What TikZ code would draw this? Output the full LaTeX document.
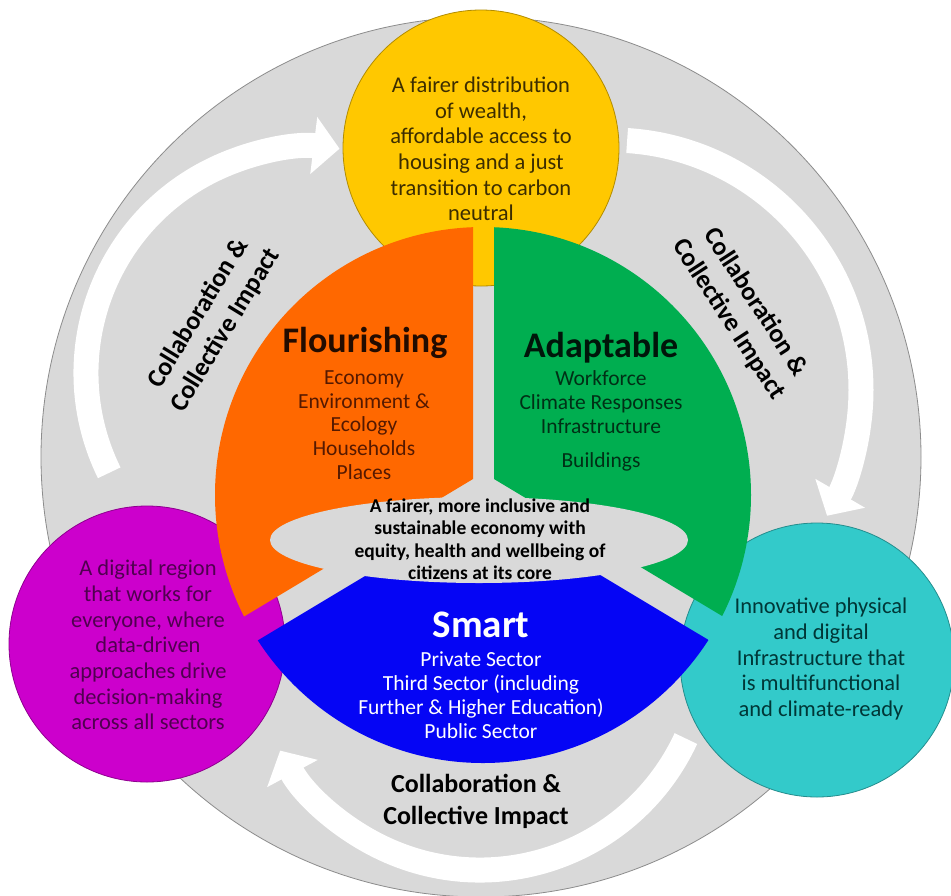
\documentclass[tikz,border=0pt]{standalone}
\usepackage{fontspec}
\setmainfont{Carlito}
\usetikzlibrary{arrows.meta}
\definecolor{ringgrey}{RGB}{217,217,217}
\definecolor{ringedge}{RGB}{140,140,140}
\definecolor{cyel}{RGB}{255,200,0}
\definecolor{corange}{RGB}{255,104,0}
\definecolor{cgreen}{RGB}{0,174,80}
\definecolor{cblue}{RGB}{5,5,245}
\definecolor{cmag}{RGB}{204,0,204}
\definecolor{ccyan}{RGB}{51,202,202}
\definecolor{tyel}{RGB}{60,45,0}
\definecolor{torange}{RGB}{85,25,0}
\definecolor{torangeT}{RGB}{35,12,0}
\definecolor{tgreen}{RGB}{0,48,22}
\definecolor{tgreenT}{RGB}{0,22,10}
\definecolor{tmag}{RGB}{80,0,80}
\definecolor{tcyan}{RGB}{0,55,55}
\tikzset{
  flowarrow/.style={draw=white, line width=25pt, -{Triangle[width=56pt,length=26pt]}},
  collab/.style={font=\fontsize{26}{32}\selectfont\bfseries, align=center, text=black, inner sep=0pt},
  bubble/.style={circle, inner sep=0pt, line width=0.8pt},
  bubtext/.style={align=center, font=\fontsize{22.5}{25.7}\selectfont, inner sep=0pt},
  subtext/.style={align=center, font=\fontsize{21.5}{23.8}\selectfont, inner sep=0pt},
  sectitle/.style={font=\fontsize{36}{40}\selectfont\bfseries, inner sep=0pt},
  coretext/.style={align=center, font=\fontsize{19.5}{22.5}\selectfont\bfseries, text=black, inner sep=0pt}
}
\begin{document}
\begin{tikzpicture}[x=1pt,y=-1pt]
\useasboundingbox (0,0) rectangle (951,895);
\fill[white] (0,0) rectangle (951,895);

% outer ring
\node[bubble, fill=ringgrey, draw=ringedge, minimum size=880pt] (ring) at (481,457) {};

% circular white arrows
\coordinate (lc) at (312,373);
\coordinate (rc) at (611,390);
\coordinate (bc) at (480,643);
\draw[flowarrow] ([shift={(153.8:226)}]lc) arc[start angle=153.8, end angle=277, radius=226];
\draw[flowarrow] ([shift={(273.7:250)}]rc) arc[start angle=273.7, end angle=390.2, radius=250];
\draw[flowarrow] ([shift={(24.9:227)}]bc) arc[start angle=24.9, end angle=151.7, radius=227];

% collaboration labels
\node[collab, rotate=58.5] (colL) at (212,322) {Collaboration \&\\Collective Impact};
\node[collab, rotate=-57] (colR) at (742,311) {Collaboration \&\\Collective Impact};
\node[collab] (colB) at (476,801) {Collaboration \&\\Collective Impact};

% outer bubbles
\node[bubble, fill=cyel, draw=cyel!70!black, minimum size=276pt] (yel) at (481,148) {};
\node[bubble, fill=cmag, draw=cmag!70!black, minimum size=276pt] (mag) at (147,644) {};
\node[bubble, fill=ccyan, draw=ccyan!70!black, minimum size=274pt] (cya) at (817,660) {};

% three sectors
\coordinate (sc) at (483,495);
\begin{scope}
  \clip (sc) circle[radius=268];
  \fill[corange] (473,479) -- (100,703) -- (100,100) -- (473,100) -- cycle;
  \fill[cgreen] (494,479) -- (867,703) -- (867,100) -- (494,100) -- cycle;
  \fill[cblue] (483.5,505) -- (100,735) -- (100,900) -- (867,900) -- (867,735) -- cycle;
\end{scope}

% core ellipse
\fill[ringgrey] (479,540) ellipse[x radius=209, y radius=43];

% texts
\node[bubtext, text=tyel] (yelT) at (481,149) {A fairer distribution\\of wealth,\\affordable access to\\housing and a just\\transition to carbon\\neutral};
\node[bubtext, text=tmag] (magT) at (148,645) {A digital region\\that works for\\everyone, where\\data-driven\\approaches drive\\decision-making\\across all sectors};
\node[bubtext, text=tcyan] (cyaT) at (821,659) {Innovative physical\\and digital\\Infrastructure that\\is multifunctional\\and climate-ready};

\node[sectitle, text=torangeT] (flT) at (365,343) {Flourishing};
\node[subtext, text=torange] (flS) at (364,425) {Economy\\Environment \&\\Ecology\\Households\\Places};

\node[sectitle, text=tgreenT] (adT) at (601,348) {Adaptable};
\node[subtext, text=tgreen] (adS) at (601,421) {Workforce\\Climate Responses\\Infrastructure\\[10pt]Buildings};

\node[sectitle, text=white, font=\fontsize{39}{42}\selectfont\bfseries] (smT) at (481,625) {Smart};
\node[subtext, text=white] (smS) at (481,695) {Private Sector\\Third Sector (including\\Further \& Higher Education)\\Public Sector};

\node[coretext] (core) at (480,539) {A fairer, more inclusive and\\sustainable economy with\\equity, health and wellbeing of\\citizens at its core};
\end{tikzpicture}
\end{document}
